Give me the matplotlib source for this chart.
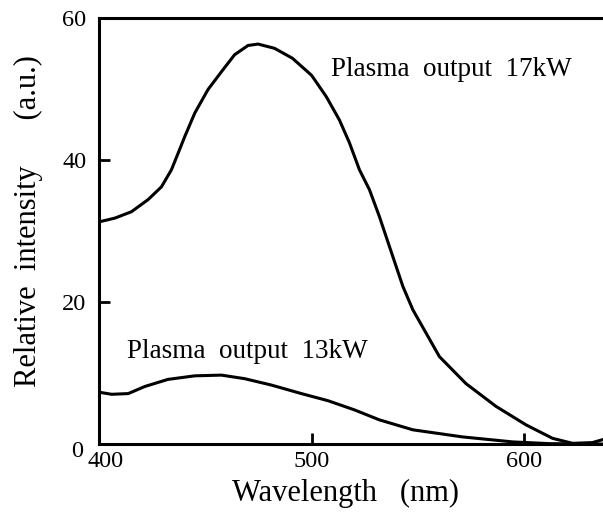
import matplotlib.pyplot as plt
from matplotlib.transforms import ScaledTranslation

# Data
wl_17 = [400.5, 407.5, 415.3, 423.1, 429.4, 434.1, 437.2, 440.4, 445.1, 451.3, 457.6, 463.8,
         470.1, 474.8, 482.6, 491, 500, 506.9, 513.1, 517.8, 522.5, 527.2, 531.9, 536.6,
         542.9, 547.6, 560.1, 572.6, 586.7, 600.8, 613.3, 622.7, 632, 636.6]
int_17 = [31.3, 31.8, 32.7, 34.4, 36.2, 38.6, 40.9, 43.3, 46.6, 49.9, 52.4, 54.8,
          56.1, 56.3, 55.7, 54.3, 51.9, 48.9, 45.6, 42.4, 38.6, 35.8, 32.0, 27.8,
          22.2, 18.9, 12.3, 8.5, 5.3, 2.7, 0.8, 0.1, 0.2, 0.6]

wl_13 = [400, 406, 413.8, 421.6, 432.5, 445.1, 457.6, 468.5, 481.1, 495.2, 507.7, 520.2,
         531.9, 547.6, 571, 594.5, 612, 637]
int_13 = [7.3, 7.0, 7.1, 8.1, 9.1, 9.6, 9.7, 9.2, 8.3, 7.1, 6.1, 4.8,
          3.4, 2.0, 1.0, 0.3, 0.05, 0.0]

x_ticks = [400, 500, 600]
y_ticks = [0, 20, 40, 60]

plt.rcParams['font.family'] = 'Liberation Serif'

fig = plt.figure(figsize=(6.03, 5.23), dpi=100)
ax = fig.add_axes([0.164, 0.151, 0.836, 0.815])

ax.plot(wl_17, int_17, color='black', lw=2.2, solid_joinstyle='round')
ax.plot(wl_13, int_13, color='black', lw=2.2, solid_joinstyle='round')

ax.set_xlim(400, 637)
ax.set_ylim(0, 60)
ax.set_xticks(x_ticks)
ax.set_yticks(y_ticks)
ax.tick_params(direction='in', length=8, width=2, labelsize=17.5)
ax.tick_params(axis='x', pad=5)
ax.tick_params(axis='y', pad=9)

for s in ['left', 'bottom', 'top']:
    ax.spines[s].set_linewidth(2.2)
ax.spines['right'].set_visible(False)

# the corner labels sit a little off their ticks in the original
xl = ax.get_xticklabels()[0]
xl.set_transform(xl.get_transform() + ScaledTranslation(0.065, 0, fig.dpi_scale_trans))
yl = ax.get_yticklabels()[0]
yl.set_transform(yl.get_transform() + ScaledTranslation(-0.03, -0.05, fig.dpi_scale_trans))

ax.text(509.2, 51.8, 'Plasma  output  17kW', fontsize=19.5, va='baseline')
ax.text(413, 12.1, 'Plasma  output  13kW', fontsize=19.5, va='baseline')

ax.set_xlabel('Wavelength   (nm)', fontsize=22)
ax.xaxis.set_label_coords(0.489, -0.083)
ax.set_ylabel('Relative  intensity      (a.u.)', fontsize=22)
ax.yaxis.set_label_coords(-0.111, 0.522)

fig.savefig('out.png', dpi=100)
